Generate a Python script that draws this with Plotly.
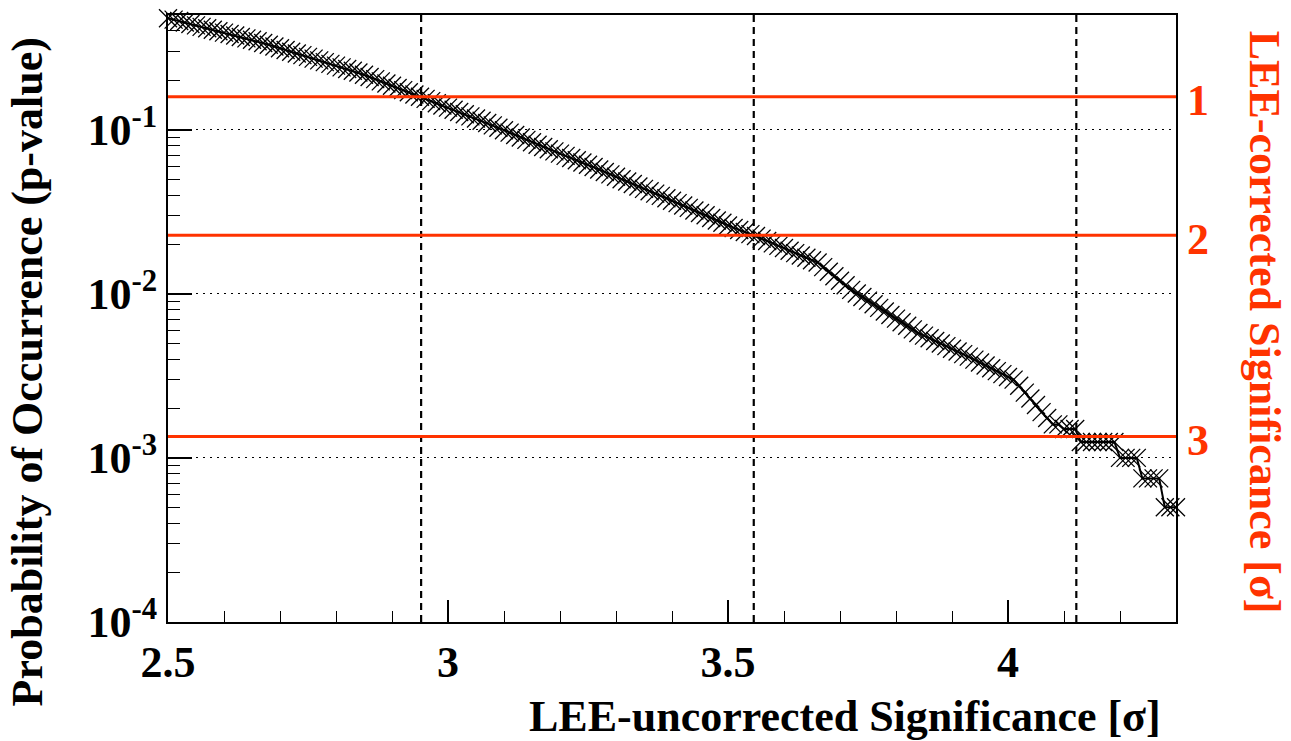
import math
import plotly.graph_objects as go

# ---------------- data ----------------
sig_uncorr = [
    2.50, 2.51, 2.52, 2.53, 2.54, 2.55, 2.56, 2.57, 2.58, 2.59,
    2.60, 2.61, 2.62, 2.63, 2.64, 2.65, 2.66, 2.67, 2.68, 2.69,
    2.70, 2.71, 2.72, 2.73, 2.74, 2.75, 2.76, 2.77, 2.78, 2.79,
    2.80, 2.81, 2.82, 2.83, 2.84, 2.85, 2.86, 2.87, 2.88, 2.89,
    2.90, 2.91, 2.92, 2.93, 2.94, 2.95, 2.96, 2.97, 2.98, 2.99,
    3.00, 3.01, 3.02, 3.03, 3.04, 3.05, 3.06, 3.07, 3.08, 3.09,
    3.10, 3.11, 3.12, 3.13, 3.14, 3.15, 3.16, 3.17, 3.18, 3.19,
    3.20, 3.21, 3.22, 3.23, 3.24, 3.25, 3.26, 3.27, 3.28, 3.29,
    3.30, 3.31, 3.32, 3.33, 3.34, 3.35, 3.36, 3.37, 3.38, 3.39,
    3.40, 3.41, 3.42, 3.43, 3.44, 3.45, 3.46, 3.47, 3.48, 3.49,
    3.50, 3.51, 3.52, 3.53, 3.54, 3.55, 3.56, 3.57, 3.58, 3.59,
    3.60, 3.61, 3.62, 3.63, 3.64, 3.65, 3.66, 3.67, 3.68, 3.69,
    3.70, 3.71, 3.72, 3.73, 3.74, 3.75, 3.76, 3.77, 3.78, 3.79,
    3.80, 3.81, 3.82, 3.83, 3.84, 3.85, 3.86, 3.87, 3.88, 3.89,
    3.90, 3.91, 3.92, 3.93, 3.94, 3.95, 3.96, 3.97, 3.98, 3.99,
    4.00, 4.01, 4.02, 4.03, 4.04, 4.05, 4.06, 4.07, 4.08, 4.09,
    4.10, 4.11, 4.12, 4.13, 4.14, 4.15, 4.16, 4.17, 4.18, 4.19,
    4.20, 4.21, 4.22, 4.23, 4.24, 4.25, 4.26, 4.27, 4.28, 4.29,
    4.30,
]

p_value = [
    0.4780, 0.4684, 0.4591, 0.4499, 0.4409, 0.4321, 0.4234, 0.4150, 0.4067, 0.3985,
    0.3906, 0.3828, 0.3751, 0.3676, 0.3603, 0.3531, 0.3460, 0.3377, 0.3295, 0.3215,
    0.3138, 0.3062, 0.2988, 0.2916, 0.2846, 0.2777, 0.2710, 0.2645, 0.2581, 0.2519,
    0.2458, 0.2399, 0.2341, 0.2285, 0.2229, 0.2162, 0.2096, 0.2033, 0.1971, 0.1911,
    0.1854, 0.1797, 0.1743, 0.1690, 0.1639, 0.1589, 0.1541, 0.1494, 0.1449, 0.1405,
    0.1363, 0.1322, 0.1282, 0.1243, 0.1205, 0.1169, 0.1134, 0.1099, 0.1063, 0.1027,
    0.0993, 0.0960, 0.0928, 0.0897, 0.0867, 0.0838, 0.0810, 0.0785, 0.0761, 0.0738,
    0.0715, 0.0693, 0.0672, 0.0651, 0.0631, 0.0612, 0.0592, 0.0572, 0.0553, 0.0534,
    0.0517, 0.0499, 0.0483, 0.0467, 0.0451, 0.0436, 0.0422, 0.0408, 0.0395, 0.0382,
    0.0369, 0.0357, 0.0345, 0.0334, 0.0322, 0.0311, 0.0301, 0.0290, 0.0280, 0.0271,
    0.0261, 0.0252, 0.0245, 0.0238, 0.0231, 0.0225, 0.0217, 0.0210, 0.0203, 0.0196,
    0.0190, 0.0183, 0.0177, 0.0171, 0.0166, 0.0160, 0.0155, 0.01454, 0.01364, 0.01280,
    0.01201, 0.01127, 0.01057, 0.01005, 0.00956, 0.00909, 0.00864, 0.00821, 0.00781, 0.00743,
    0.00706, 0.00671, 0.00638, 0.00607, 0.00577, 0.00556, 0.00536, 0.00516, 0.00498, 0.00480,
    0.00462, 0.00445, 0.00429, 0.00414, 0.00397, 0.00381, 0.00366, 0.00352, 0.00338, 0.00324,
    0.00311, 0.00300, 0.00275, 0.00250, 0.00230, 0.00210, 0.00190, 0.00175, 0.00160, 0.00160,
    0.00150, 0.00150, 0.00150, 0.00125, 0.00125, 0.00125, 0.00125, 0.00125, 0.00125, 0.00125,
    0.00100, 0.00100, 0.00100, 0.00100, 0.00075, 0.00075, 0.00075, 0.00075, 0.00050, 0.00050,
    0.00050,
]

corr_sigma_labels = ["1", "2", "3"]
corr_sigma_pvalues = [0.1587, 0.02275, 0.00135]
crossing_sig = [2.952, 3.546, 4.122]

x_range = [2.5, 4.3]
y_range = [1e-4, 0.5]
x_ticks = [2.5, 3.0, 3.5, 4.0]
x_ticklabels = ["2.5", "3", "3.5", "4"]
y_ticks = [1e-4, 1e-3, 1e-2, 1e-1]

RED = "#ff3300"
FONT = "Liberation Serif"
FS = 44

fig = go.Figure()

# main curve
fig.add_trace(go.Scatter(
    x=sig_uncorr, y=p_value, mode="lines+markers",
    line=dict(color="black", width=2),
    marker=dict(symbol="x-thin", size=18, line=dict(color="black", width=1.3)),
    cliponaxis=False, showlegend=False, hoverinfo="skip",
))

# vertical dashed lines at crossings
for xc in crossing_sig:
    fig.add_trace(go.Scatter(
        x=[xc, xc], y=y_range, mode="lines",
        line=dict(color="black", width=2.2, dash="7px,5px"),
        showlegend=False, hoverinfo="skip",
    ))

# red horizontal lines for LEE-corrected significance
for pv in corr_sigma_pvalues:
    fig.add_trace(go.Scatter(
        x=x_range, y=[pv, pv], mode="lines",
        line=dict(color=RED, width=3),
        showlegend=False, hoverinfo="skip",
    ))

annotations = []
for lab, pv in zip(corr_sigma_labels, corr_sigma_pvalues):
    annotations.append(dict(
        x=1.0218, xref="paper", y=math.log10(pv), yref="y",
        text="<b>%s</b>" % lab, showarrow=False, xanchor="center", yanchor="middle",
        yshift=-4, font=dict(family=FONT, size=FS, color=RED),
    ))

annotations.append(dict(
    x=-0.139, xref="paper", y=0.967, yref="paper",
    text="<b>Probability of Occurrence (p-value)</b>", textangle=-90,
    showarrow=False, xanchor="center", yanchor="top",
    font=dict(family=FONT, size=FS, color="black"),
))
annotations.append(dict(
    x=0.987, xref="paper", y=-0.1565, yref="paper",
    text="<b>LEE-uncorrected Significance [σ]</b>",
    showarrow=False, xanchor="right", yanchor="middle",
    font=dict(family=FONT, size=FS, color="black"),
))
annotations.append(dict(
    x=1.088, xref="paper", y=0.977, yref="paper",
    text="<b>LEE-corrected Significance [σ]</b>", textangle=90,
    showarrow=False, xanchor="center", yanchor="top",
    font=dict(family=FONT, size=FS, color=RED),
))

fig.update_layout(
    width=1291, height=741,
    margin=dict(l=168, r=115, t=15, b=119),
    paper_bgcolor="white", plot_bgcolor="white",
    annotations=annotations,
    font=dict(family=FONT, size=FS, color="black"),
)

fig.update_xaxes(
    range=x_range, tickmode="array", tickvals=x_ticks,
    ticktext=["<b>%s</b>" % t for t in x_ticklabels],
    ticks="inside", ticklen=22, tickwidth=1.5, tickcolor="black",
    minor=dict(ticks="inside", dtick=0.1, ticklen=11, tickwidth=1.2, tickcolor="black", showgrid=False),
    showgrid=False, zeroline=False,
    showline=True, linecolor="black", linewidth=2, mirror=True,
    tickfont=dict(family=FONT, size=FS, color="black"),
)

fig.update_yaxes(
    type="log", range=[math.log10(y_range[0]), math.log10(y_range[1])],
    tickmode="array", tickvals=y_ticks,
    ticktext=["<b>10<sup>%d</sup></b>" % round(math.log10(v)) for v in y_ticks],
    ticks="inside", ticklen=24, tickwidth=1.5, tickcolor="black",
    minor=dict(ticks="inside", dtick="D1", ticklen=12, tickwidth=1.2, tickcolor="black", showgrid=False),
    showgrid=True, gridcolor="black", gridwidth=1.3, griddash="2px,5px",
    zeroline=False,
    showline=True, linecolor="black", linewidth=2, mirror=True,
    tickfont=dict(family=FONT, size=FS, color="black"),
)

fig.write_html("out.html")
